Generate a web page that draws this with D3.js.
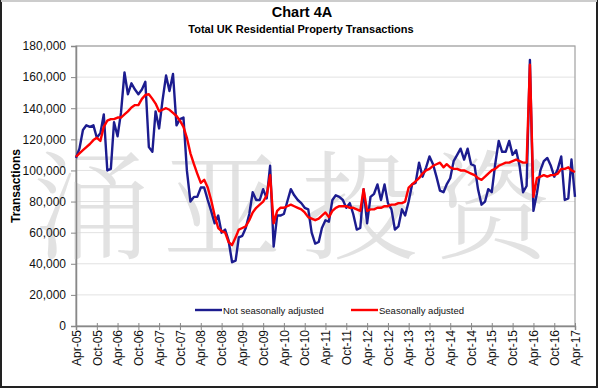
<!DOCTYPE html>
<html><head><meta charset="utf-8">
<script src="https://cdn.jsdelivr.net/npm/d3@7/dist/d3.min.js"></script>
<style>
html,body{margin:0;padding:0;background:#fff;}
svg{display:block;font-family:"Liberation Sans",Arial,sans-serif;}
</style></head>
<body><svg id="c" width="600" height="390"></svg>
<script>
// ---- data (thousands of transactions, monthly Apr-05 .. Apr-17) ----
const startMonth = "2005-04";
const notSA = [108,114,126,129,128,129,121,124,136,100,101,131,122,137,163,149,156,152,149,152,157,115,112,138,127,145,161,151,162,129,133,134,100,80,83,83,89,89,81,74,66,71,60,62,55,41,42,57,58,63,72,86,81,81,88,82,103,51,71,71,72,80,88,84,81,79,76,75,60,53,54,63,68,67,81,84,83,81,76,79,72,62,63,88,66,83,85,91,81,91,79,75,62,64,75,71,80,91,92,105,96,102,109,104,96,87,86,91,95,106,110,114,107,114,104,103,88,78,80,88,86,104,119,112,112,119,110,113,103,86,90,171,74,85,100,106,108,103,96,101,109,81,82,107,83];
const sa = [108.8,111,113,115,117,119.5,121,119,128,132,133,133,134,134,136,138,140.5,142,142,146,148.5,149,146,143,138,139,140,139,137,135,132,128,121,111,104,98,92,94,89,81,71,63,61,60,54,52,57,62,63,64,68,73,76,78,80,84,97,66,74,76,76,77,78,77,76,75,73,70,69,68,69,71,73,70,74,76,77,77,77,76,76,75,74,88,74,75,75,76,76,77,77,78,78,79,79,80,89,91,93,95,98,100,101,103,104,105,102,104,102,101,101,100,100,99,98,97,95,94,96,98,100,101,103,104,105,105,106,107,106,105,105,168,83,95,96,97,96,97,97,98,101,101,102,100,99];
const yTicks = [0,20000,40000,60000,80000,100000,120000,140000,160000,180000];
const xTickLabels = ["Apr-05","Oct-05","Apr-06","Oct-06","Apr-07","Oct-07","Apr-08","Oct-08","Apr-09","Oct-09","Apr-10","Oct-10","Apr-11","Oct-11","Apr-12","Oct-12","Apr-13","Oct-13","Apr-14","Oct-14","Apr-15","Oct-15","Apr-16","Oct-16","Apr-17"];
const seriesNames = ["Not seasonally adjusted","Seasonally adjusted"];
const watermark = ["涌","亚","投","资"];

// ---- layout ----
const svg = d3.select("#c");
const L = 76, R = 575, T = 46, B = 326;
const parse = d3.timeParse("%Y-%m");
const t0 = parse(startMonth);
const dates = notSA.map((_, i) => d3.timeMonth.offset(t0, i));
const x = d3.scaleTime().domain([dates[0], dates[dates.length-1]]).range([L, R]);
const y = d3.scaleLinear().domain([0, 180000]).range([B, T]);

// outer frame
svg.append("rect").attr("x",1).attr("y",1).attr("width",596).attr("height",386)
  .attr("fill","none").attr("stroke","#222").attr("stroke-width",2);
svg.append("line").attr("x1",1).attr("x2",597).attr("y1",1).attr("y2",1).attr("stroke","#ccc").attr("stroke-width",2);

// titles
svg.append("text").attr("x",302).attr("y",17).attr("text-anchor","middle")
  .attr("font-weight","bold").attr("font-size",14.5).text("Chart 4A");
svg.append("text").attr("x",301).attr("y",33).attr("text-anchor","middle")
  .attr("font-weight","bold").attr("font-size",11).text("Total UK Residential Property Transactions");

// gridlines
svg.append("g").selectAll("line").data(yTicks.filter(d=>d>0)).join("line")
  .attr("x1",L).attr("x2",R).attr("y1",d=>y(d)).attr("y2",d=>y(d))
  .attr("stroke","#e2e2e2").attr("stroke-width",1);

// plot frame
svg.append("rect").attr("x",L).attr("y",T).attr("width",R-L).attr("height",B-T)
  .attr("fill","none").attr("stroke","#a0a0a0").attr("stroke-width",1.2);

// watermark
const wmX = [92, 222, 360, 493];
svg.append("g").selectAll("text").data(watermark).join("text")
  .attr("x",(d,i)=>wmX[i]).attr("y",250).attr("text-anchor","middle")
  .attr("font-family",'"Noto Serif CJK SC","Noto Sans CJK SC",serif')
  .attr("font-weight",300).attr("font-size",118).attr("fill","#d9d9d9").attr("opacity",0.75)
  .text(d=>d);

// y axis
const yAxis = d3.axisLeft(y).tickValues(yTicks).tickSize(5).tickPadding(5)
  .tickFormat(d3.format(","));
const gy = svg.append("g").attr("transform",`translate(${L},0)`).call(yAxis);
gy.select(".domain").attr("stroke","#888").attr("stroke-width",1.5);
gy.selectAll(".tick line").attr("stroke","#888");
gy.selectAll("text").attr("font-size",12).attr("fill","#111").attr("font-family","Liberation Sans, Arial, sans-serif");

// x axis
const xTickDates = xTickLabels.map((_, i) => d3.timeMonth.offset(t0, i*6));
const xAxis = d3.axisBottom(x).tickValues(xTickDates).tickSize(4).tickPadding(4)
  .tickFormat((d,i)=>xTickLabels[i]);
const gx = svg.append("g").attr("transform",`translate(0,${B})`).call(xAxis);
gx.select(".domain").attr("stroke","#888").attr("stroke-width",1.5);
gx.selectAll(".tick line").attr("stroke","#888").attr("y1",-3);
gx.selectAll("text").attr("font-size",12).attr("fill","#111")
  .attr("font-family","Liberation Sans, Arial, sans-serif")
  .attr("text-anchor","end").attr("dy","0.35em")
  .attr("transform","translate(0,4) rotate(-90)").attr("x",0).attr("y",0);

// y title
svg.append("text").attr("transform","translate(20,186) rotate(-90)").attr("text-anchor","middle")
  .attr("font-weight","bold").attr("font-size",12).text("Transactions");

// lines
const line = d3.line().x((d,i)=>x(dates[i])).y(d=>y(d*1000)).curve(d3.curveLinear);
svg.append("path").datum(notSA).attr("d",line).attr("fill","none")
  .attr("stroke","#1c1c8f").attr("stroke-width",2.4).attr("stroke-linejoin","round");
svg.append("path").datum(sa).attr("d",line).attr("fill","none")
  .attr("stroke","#ff0000").attr("stroke-width",2.4).attr("stroke-linejoin","round");

// legend
const lg = svg.append("g").attr("font-size",9.5);
const legX = [195, 351], legC = ["#1c1c8f","#ff0000"];
seriesNames.forEach((n,i)=>{
  lg.append("line").attr("x1",legX[i]).attr("x2",legX[i]+27).attr("y1",310).attr("y2",310)
    .attr("stroke",legC[i]).attr("stroke-width",2.4);
  lg.append("text").attr("x",legX[i]+28).attr("y",313.5).attr("fill","#111").text(n);
});
</script></body></html>
